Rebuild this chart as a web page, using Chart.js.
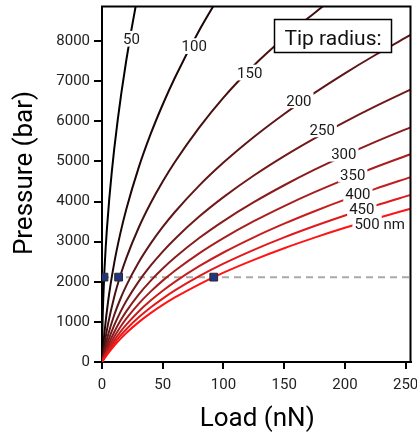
<!DOCTYPE html>
<html><head><meta charset="utf-8">
<script src="https://cdn.jsdelivr.net/npm/chart.js@4.4.0/dist/chart.umd.min.js"></script>
<style>html,body{margin:0;padding:0;background:#fff;}#wrap{width:417px;height:434px;position:relative;}</style>
</head><body><div id="wrap"><canvas id="c"></canvas></div>
<script>
// ---- data ----
const radiusLabels = ['50','100','150','200','250','300','350','400','450','500 nm'];
const loads50 = [0,0.5,1,2,3,4,6,8,10,13,16,20,24,28,32];
const p50     = [0,1010,1543,2279,2834,3299,4072,4721,5292,6047,6718,7521,8245,8911,9530];
const loads   = [0,2,5,10,15,20,30,40,50,60,80,100,125,150,175,200,225,254];
const p100 = [0,720,1505,2458,3193,3808,4827,5677,6418,7085,8261,9291];
const p150 = [0,433,950,1615,2142,2589,3334,3955,4497,4984,5842,6591,7390,8080,8700,9300];
const p200 = [0,301,673,1166,1564,1904,2473,2949,3365,3738,4396,4970,5608,6182,6708,7195,7651,8150];
const p250 = [0,226,515,911,1238,1521,1998,2400,2752,3067,3624,4109,4648,5132,5575,5986,6371,6790];
const p300 = [0,178,413,742,1019,1261,1674,2023,2329,2604,3090,3513,3983,4405,4792,5149,5485,5849];
const p350 = [0,147,344,626,867,1079,1444,1754,2028,2274,2709,3088,3509,3887,4233,4553,4853,5179];
const p400 = [0,123,290,533,743,930,1254,1531,1776,1997,2387,2729,3107,3447,3758,4046,4315,4608];
const p450 = [0,105,250,463,650,817,1108,1359,1581,1783,2138,2450,2795,3106,3389,3652,3898,4165];
const p500 = [0,91,216,404,571,722,987,1217,1422,1608,1937,2227,2547,2836,3100,3344,3572,3820];
const markerLoads = [1.6, 13.7, 92];
const markerPressures = [2115, 2115, 2115];
const refLineLoads = [0, 254];
const refLinePressures = [2115, 2115];
const labelLoads = [24.2, 75.9, 121.6, 162.1, 181.3, 199.1, 206.4, 210.7, 213.9, 228.6];
const labelPressures = [8057, 7872, 7214, 6523, 5798, 5192, 4672, 4202, 3811, 3460];
const xTicks = [0,50,100,150,200,250];
const yTicks = [0,1000,2000,3000,4000,5000,6000,7000,8000];
const xMax = 254, yMax = 8860;

const curvePressures = [p50,p100,p150,p200,p250,p300,p350,p400,p450,p500];
const curveLoads = [loads50,loads,loads,loads,loads,loads,loads,loads,loads,loads];

// line colours: black -> red ramp
const lineColors = ['#000000','#1c0606','#461010','#5e1616','#721a1a','#8c1c1c','#a81e1e','#c41e1e','#e01a1a','#ff1414'];
const FONT = 'Roboto';
const datasets = [];
curvePressures.forEach((ps,i)=>{
  datasets.push({
    data: ps.map((y,k)=>({x:curveLoads[i][k], y})),
    borderColor: lineColors[i], borderWidth: 2, pointRadius: 0,
    cubicInterpolationMode: 'monotone', fill:false, order: 10 - i + 1
  });
});
datasets.push({
  data: refLineLoads.map((x,k)=>({x, y:refLinePressures[k]})),
  borderColor:'#a9a9a9', borderWidth:2, borderDash:[7,5], pointRadius:0, order: 30
});
datasets.push({
  data: markerLoads.map((x,k)=>({x, y:markerPressures[k]})),
  showLine:false, pointStyle:'rect', pointRadius:5.5, pointHoverRadius:5.5,
  backgroundColor:'#23357f', borderColor:'#2a2a2a', borderWidth:1, order:-1
});

const decor = {
  id:'decor',
  afterDatasetsDraw(chart){
    const {ctx, chartArea:a, scales:{x,y}} = chart;
    ctx.save();
    ctx.font = `15px ${FONT}`;
    ctx.textAlign = 'left';
    ctx.textBaseline = 'alphabetic';
    const capH = 10.7;
    radiusLabels.forEach((t,i)=>{
      const cx = x.getPixelForValue(labelLoads[i]);
      const cy = y.getPixelForValue(labelPressures[i]);
      const w = ctx.measureText(t).width;
      const left = cx - w/2;
      const first = t.split(' ')[0];
      const wf = ctx.measureText(first).width;
      ctx.fillStyle = '#fff';
      ctx.fillRect(left-2, cy-capH/2-2.5, wf+4, capH+5);
      ctx.fillStyle = '#1a1a1a';
      ctx.fillText(t, left, cy+capH/2);
    });
    // legend box
    const bx = a.right-136, by = a.top+13, bw = 117, bh = 33;
    ctx.fillStyle = '#fff';
    ctx.fillRect(bx,by,bw,bh);
    ctx.strokeStyle = '#000'; ctx.lineWidth = 1.5;
    ctx.strokeRect(bx,by,bw,bh);
    ctx.fillStyle = '#111';
    ctx.font = `21px ${FONT}`;
    ctx.textAlign = 'center';
    ctx.fillText('Tip radius:', bx+bw/2, by+25);
    // frame top/right
    ctx.strokeStyle = '#000'; ctx.lineWidth = 2;
    ctx.beginPath();
    ctx.moveTo(a.left-1, a.top); ctx.lineTo(a.right, a.top); ctx.lineTo(a.right, a.bottom+1);
    ctx.stroke();
    ctx.restore();
  },
  afterDraw(chart){
    const {ctx, chartArea:a} = chart;
    ctx.save();
    ctx.fillStyle = '#000';
    ctx.font = `26px ${FONT}`;
    ctx.textAlign = 'center';
    ctx.textBaseline = 'alphabetic';
    ctx.fillText('Load (nN)', (a.left+a.right)/2+1, 426);
    ctx.translate(32, 173);
    ctx.rotate(-Math.PI/2);
    ctx.fillText('Pressure (bar)', 0, 0);
    ctx.restore();
  }
};

new Chart(document.getElementById('c'), {
  type:'line',
  data:{datasets},
  options:{
    responsive:true, maintainAspectRatio:false, animation:false,
    layout:{padding:{top:4,right:6,left:0,bottom:0}},
    plugins:{legend:{display:false}, tooltip:{enabled:false}},
    scales:{
      x:{type:'linear', min:0, max:xMax,
        afterFit(s){ s.height = 72; s.paddingLeft = 0; s.paddingRight = 0; },
        afterBuildTicks(s){ s.ticks = xTicks.map(v=>({value:v})); },
        ticks:{font:{family:FONT,size:15}, color:'#222', padding:7, callback:v=>String(v), maxRotation:0, autoSkip:false},
        grid:{drawOnChartArea:false, drawTicks:true, tickLength:7, color:'#000', lineWidth:2},
        border:{display:true, color:'#000', width:2}
      },
      y:{type:'linear', min:0, max:yMax,
        afterFit(s){ s.width = 102; s.paddingTop = 0; s.paddingBottom = 0; },
        afterBuildTicks(s){ s.ticks = yTicks.map(v=>({value:v})); },
        ticks:{font:{family:FONT,size:15}, color:'#222', padding:4, callback:v=>String(v), autoSkip:false},
        grid:{drawOnChartArea:false, drawTicks:true, tickLength:8, color:'#000', lineWidth:2},
        border:{display:true, color:'#000', width:2}
      }
    }
  },
  plugins:[decor]
});
</script></body></html>
